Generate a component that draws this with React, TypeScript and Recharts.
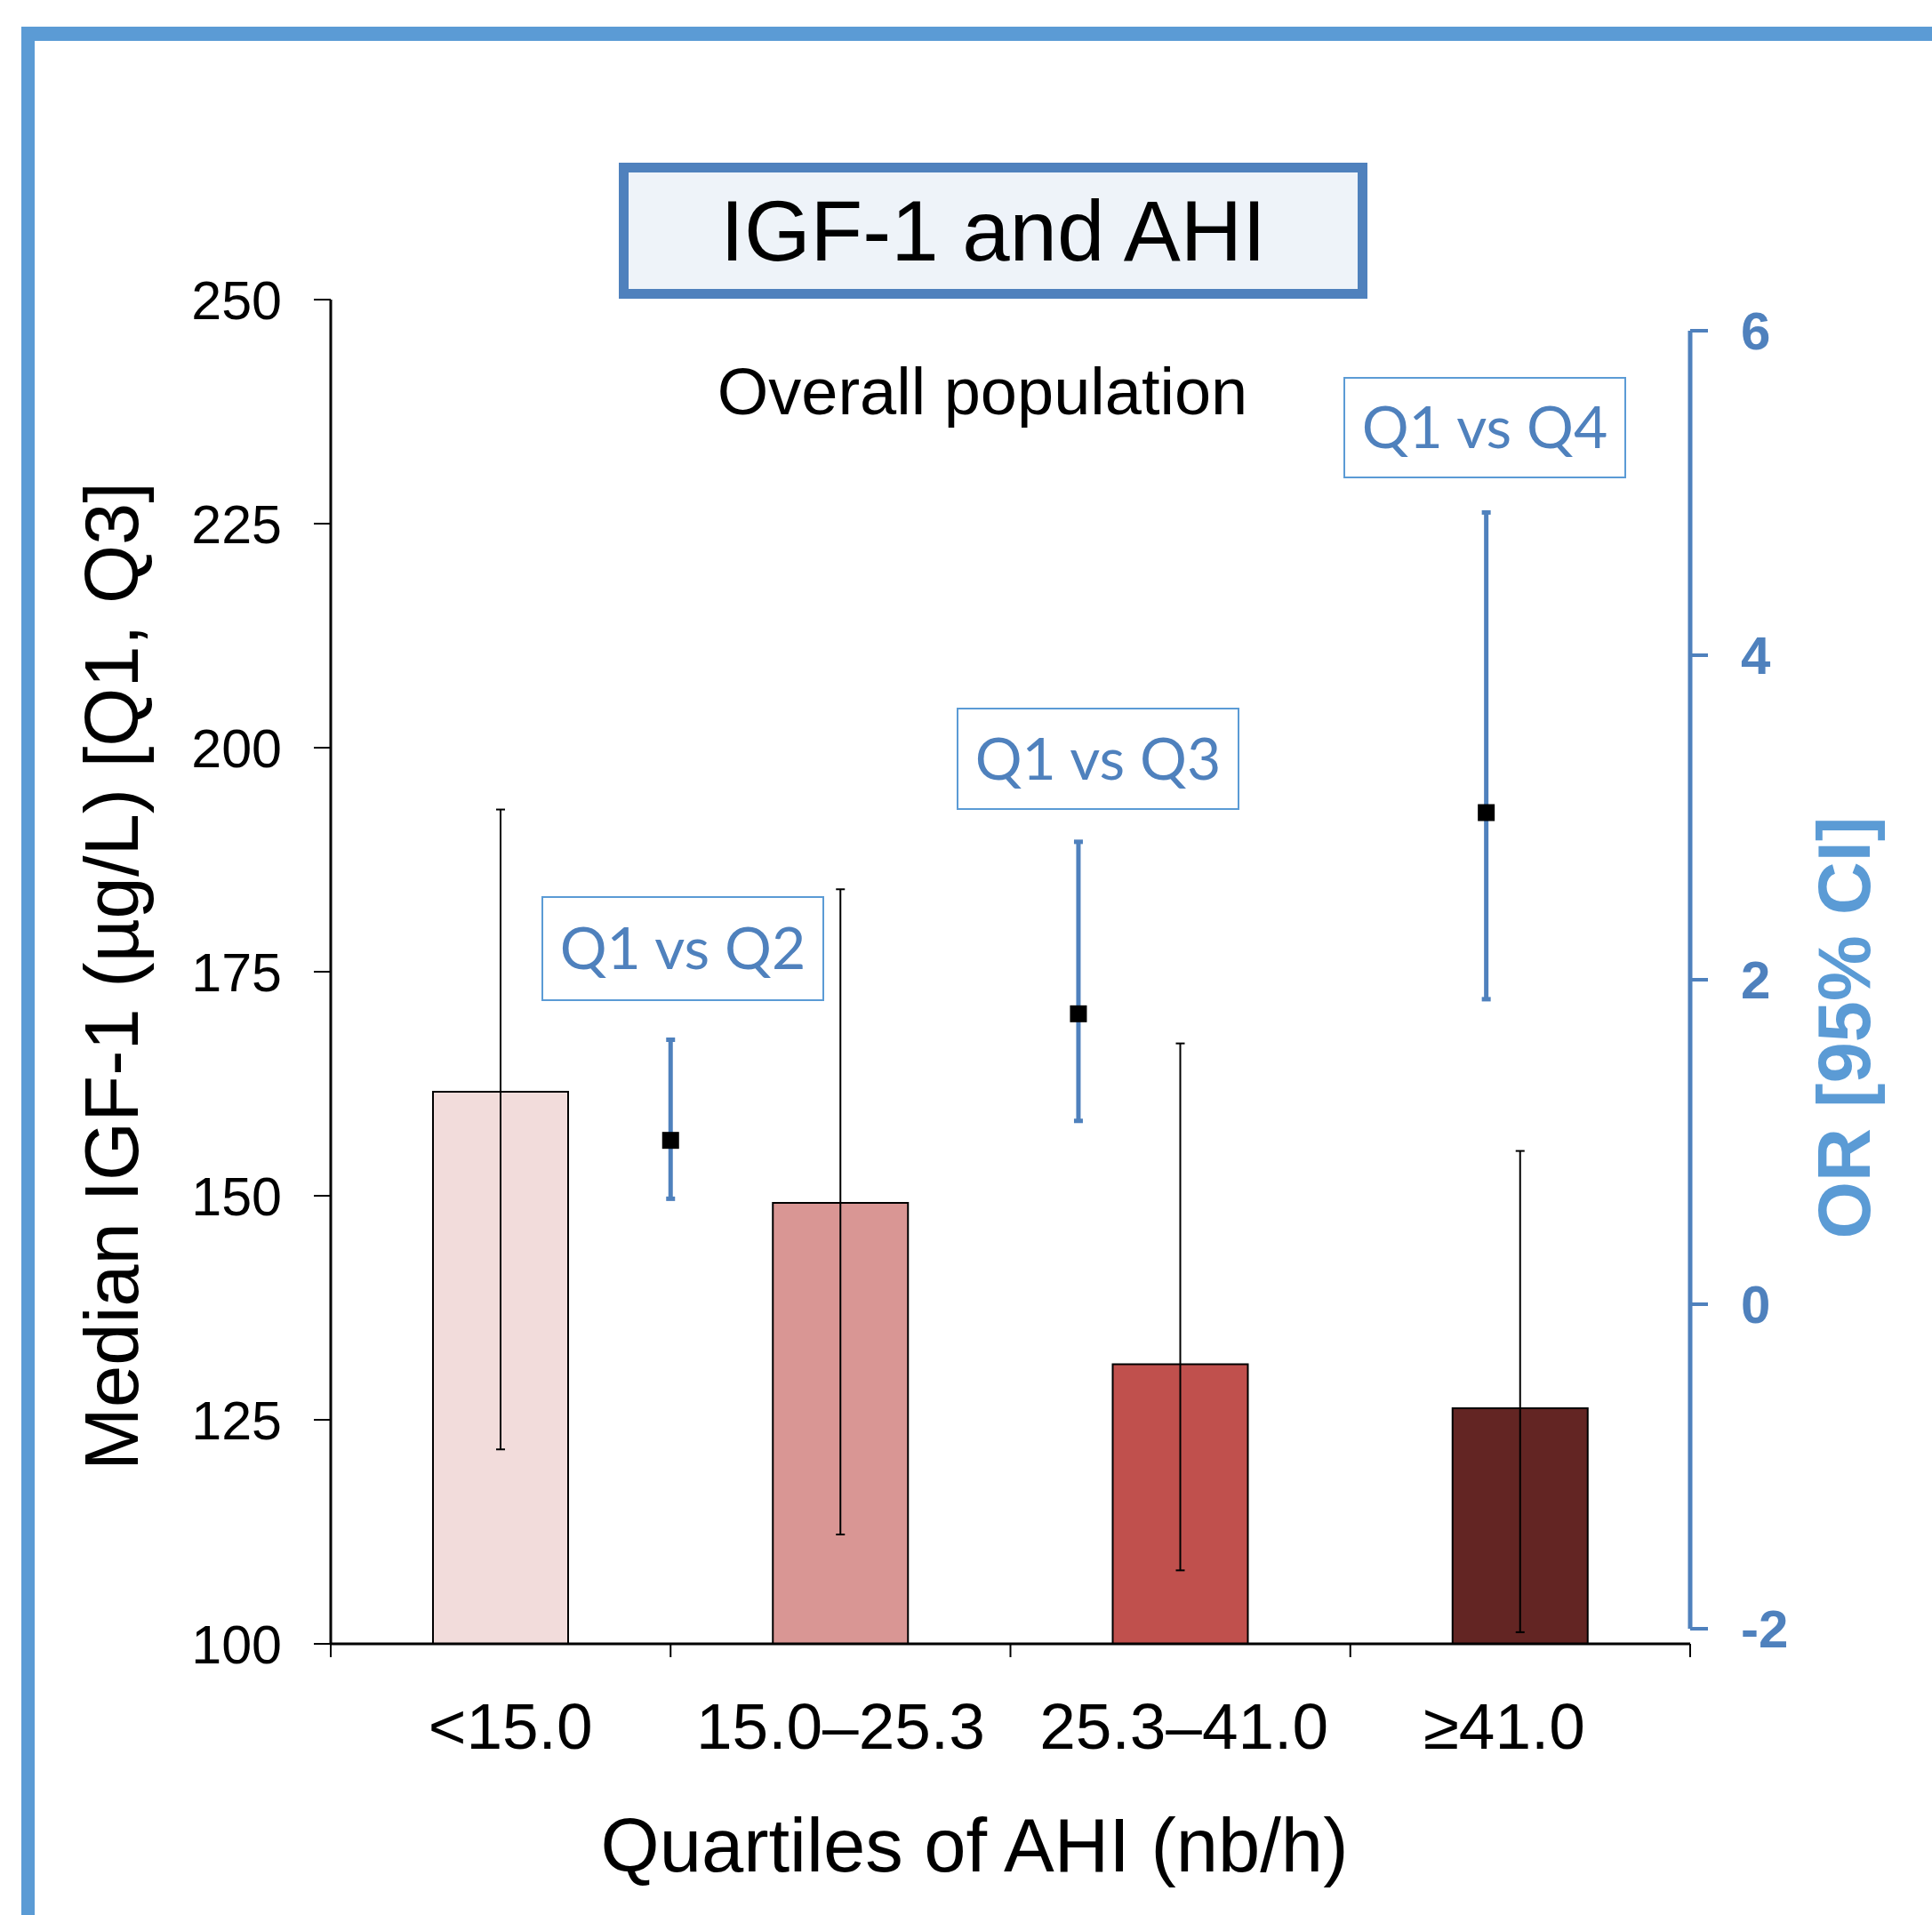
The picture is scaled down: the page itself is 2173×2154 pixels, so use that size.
import { ComposedChart, Bar, Cell, ErrorBar, XAxis, YAxis, Scatter } from 'recharts';

const categories = ['<15.0', '15.0–25.3', '25.3–41.0', '≥41.0'];
const medianIgf = [161.6, 149.2, 131.2, 126.3];
const q1Igf = [121.7, 112.2, 108.2, 101.3];
const q3Igf = [193.1, 184.2, 167.0, 155.0];
const barColors = ['#F2DCDB', '#D99694', '#C0504D', '#632523'];
const leftTicks = [100, 125, 150, 175, 200, 225, 250];

const comparisons = ['Q1 vs Q2', 'Q1 vs Q3', 'Q1 vs Q4'];
const orPosition = [1.0, 2.2, 3.4];
const orValues = [1.01, 1.79, 3.03];
const orLower = [0.65, 1.13, 1.88];
const orUpper = [1.63, 2.85, 4.88];
const rightTicks = [-2, 0, 2, 4, 6];

const W = 2173;
const H = 2154;
const FONT = '"Liberation Sans", Arial, sans-serif';
const BLUE = '#4F81BD';
const LIGHT_BLUE = '#5B9BD5';

// small horizontal nudges of the category labels, as in the original
const labelNudge = [11, 0, 4, -18];

const barData = categories.map((c, i) => ({
    x: i + 0.5,
    name: c,
    median: medianIgf[i],
    iqr: [medianIgf[i] - q1Igf[i], q3Igf[i] - medianIgf[i]],
}));

const orData = comparisons.map((c, i) => ({
    x: orPosition[i],
    name: c,
    or: orValues[i],
    ci: [orValues[i] - orLower[i], orUpper[i] - orValues[i]],
}));

// boxes for the comparison labels (x, y, w, h)
const labelBoxes = [
    [610, 1009, 316, 116],
    [1077, 797, 316, 113],
    [1512, 425, 316, 112],
];

const QuartileTick = (props: any) => {
    const { x, y, payload } = props;
    const v = payload.value;
    if (Number.isInteger(v)) {
        return <line x1={x} y1={y - 15} x2={x} y2={y} stroke="#000" strokeWidth={2} />;
    }
    const i = Math.floor(v);
    return (
        <text x={x + labelNudge[i]} y={y + 103} textAnchor="middle" fontSize={73} fill="#000" fontFamily={FONT}>
            {categories[i]}
        </text>
    );
};

const SquareDot = (props: any) => {
    const { cx, cy } = props;
    return <rect x={cx - 9.5} y={cy - 9.5} width={19} height={19} fill="#000" />;
};

export default function App() {
    return (
        <div style={{ position: 'absolute', left: 0, top: 0, width: W, height: H, overflow: 'hidden', background: '#fff' }}>
            <div style={{ position: 'absolute', left: 0, top: 0 }}>
                <ComposedChart width={W} height={H} data={barData} margin={{ top: 337, right: 272, bottom: 0, left: 0 }}>
                    <XAxis
                        dataKey="x"
                        type="number"
                        domain={[0, 4]}
                        ticks={[0, 0.5, 1, 1.5, 2, 2.5, 3, 3.5, 4]}
                        interval={0}
                        height={305}
                        tickSize={15}
                        tickMargin={0}
                        tickLine={false}
                        tick={<QuartileTick />}
                        axisLine={{ stroke: '#000', strokeWidth: 3 }}
                    />
                    <YAxis
                        domain={[100, 250]}
                        ticks={leftTicks}
                        width={372}
                        tickSize={19}
                        tickMargin={36}
                        axisLine={{ stroke: '#000', strokeWidth: 3 }}
                        tickLine={{ stroke: '#000', strokeWidth: 2 }}
                        tick={{ fontSize: 61, fill: '#000', fontFamily: FONT }}
                    />
                    <Bar dataKey="median" barSize={152} stroke="#000" strokeWidth={2} isAnimationActive={false}>
                        {barData.map((d, i) => (
                            <Cell key={d.name} fill={barColors[i]} />
                        ))}
                        <ErrorBar dataKey="iqr" direction="y" width={5} stroke="#000" strokeWidth={2} isAnimationActive={false} />
                    </Bar>
                </ComposedChart>
            </div>
            <div style={{ position: 'absolute', left: 0, top: 0 }}>
                <ComposedChart width={W} height={H} data={orData} margin={{ top: 372, right: 0, bottom: 322, left: 372 }}>
                    <XAxis dataKey="x" type="number" domain={[0, 4]} hide />
                    <YAxis
                        dataKey="or"
                        orientation="right"
                        domain={[-2, 6]}
                        ticks={rightTicks}
                        width={272}
                        tickSize={20}
                        tickMargin={37}
                        axisLine={{ stroke: BLUE, strokeWidth: 5 }}
                        tickLine={{ stroke: BLUE, strokeWidth: 4 }}
                        tick={{ fontSize: 60, fill: BLUE, fontWeight: 'bold', fontFamily: FONT }}
                    />
                    <Scatter dataKey="or" shape={<SquareDot />} isAnimationActive={false}>
                        <ErrorBar dataKey="ci" direction="y" width={5} stroke={BLUE} strokeWidth={5} isAnimationActive={false} />
                    </Scatter>
                </ComposedChart>
            </div>
            <svg width={W} height={H} style={{ position: 'absolute', left: 0, top: 0 }}>
                <line x1={31.5} y1={38} x2={31.5} y2={H} stroke={LIGHT_BLUE} strokeWidth={15} />
                <line x1={24} y1={38} x2={W} y2={38} stroke={LIGHT_BLUE} strokeWidth={16} />
                <rect x={701.5} y={188.5} width={831} height={142} fill="#EEF3F9" stroke={BLUE} strokeWidth={11} />
                <text x={1117} y={293} textAnchor="middle" fontSize={96} fontFamily={FONT} fill="#000">
                    IGF-1 and AHI
                </text>
                <text x={1105} y={466} textAnchor="middle" fontSize={74} fontFamily={FONT} fill="#000">
                    Overall population
                </text>
                {labelBoxes.map(([bx, by, bw, bh], i) => (
                    <g key={comparisons[i]}>
                        <rect x={bx} y={by} width={bw} height={bh} fill="#fff" stroke={LIGHT_BLUE} strokeWidth={2} />
                        <text
                            x={bx + bw / 2}
                            y={by + bh / 2 + 23}
                            textAnchor="middle"
                            fontSize={66}
                            fontFamily="Lato, 'Open Sans', sans-serif"
                            fill={BLUE}
                        >
                            {comparisons[i]}
                        </text>
                    </g>
                ))}
                <text
                    x={155}
                    y={1098}
                    transform="rotate(-90 155 1098)"
                    textAnchor="middle"
                    fontSize={85}
                    fontFamily={FONT}
                    fill="#000"
                >
                    Median IGF-1 (µg/L) [Q1, Q3]
                </text>
                <text
                    x={2103}
                    y={1156}
                    transform="rotate(-90 2103 1156)"
                    textAnchor="middle"
                    fontSize={83}
                    fontWeight="bold"
                    fontFamily={FONT}
                    fill={LIGHT_BLUE}
                >
                    OR [95% CI]
                </text>
                <text x={1096} y={2105} textAnchor="middle" fontSize={85} fontFamily={FONT} fill="#000">
                    Quartiles of AHI (nb/h)
                </text>
            </svg>
        </div>
    );
}
